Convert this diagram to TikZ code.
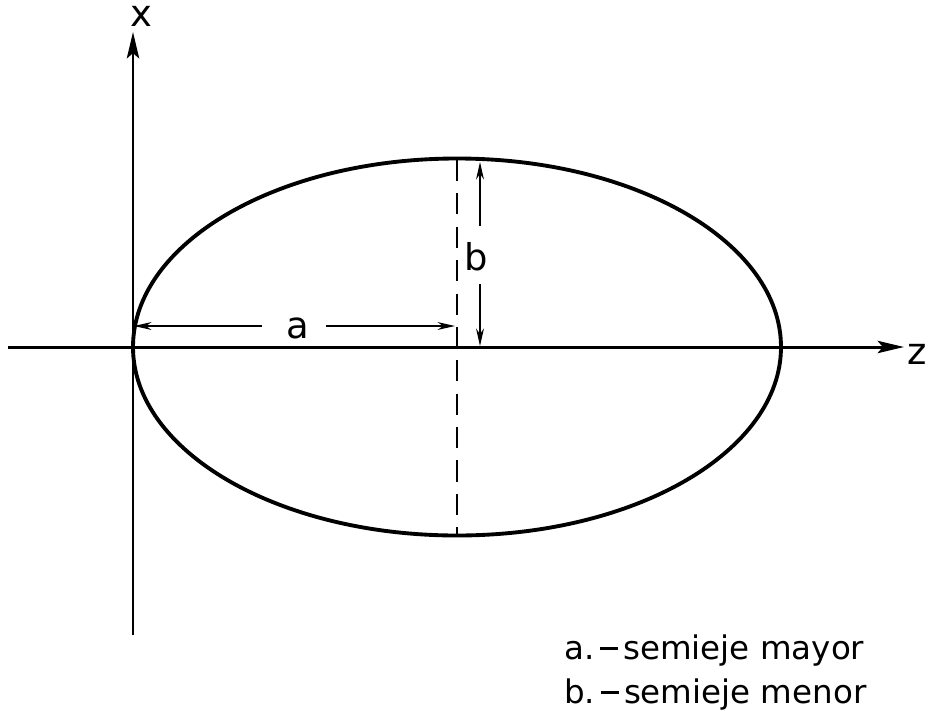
\documentclass[tikz,border=0pt]{standalone}
\usepackage{fontspec}
\setmainfont{DejaVu Sans}
\usetikzlibrary{arrows.meta}
\newcommand{\legdash}{\,\rule[0.3em]{0.55em}{1.6pt}\,}
\tikzset{
  axis/.style={line width=1.7pt, -{Stealth[length=15pt,width=7pt,inset=3pt]}},
  dimline/.style={line width=0.8pt, -{Stealth[length=10pt,width=4.5pt]}},
  curve/.style={line width=2.2pt},
  lbl/.style={font=\fontsize{21}{25}\selectfont, inner sep=0pt},
  legend/.style={font=\fontsize{18.5}{22}\selectfont, inner sep=0pt, anchor=west}
}
\begin{document}
\begin{tikzpicture}[x=0.02cm,y=-0.02cm]
\useasboundingbox (0,0) rectangle (937,714);
% coordinates
\coordinate (O) at (133,347);
\coordinate (C) at (457,347);
\coordinate (xb) at (133,635);
\coordinate (xt) at (133,32);
\coordinate (zl) at (8,347);
\coordinate (zr) at (904,347);
\coordinate (top) at (457,160);
\coordinate (bot) at (457,537);
\coordinate (bt) at (480,162);
\coordinate (bb) at (480,346);
\coordinate (bg1) at (480,226);
\coordinate (bg2) at (480,284);
\coordinate (al) at (134,326);
\coordinate (ar) at (455,326);
\coordinate (ag1) at (262,326);
\coordinate (ag2) at (326,326);
% axes
\draw[axis] (xb) -- (xt);
\draw[axis] (zl) -- (zr);
\node[lbl] (xl) at (141,16) {x};
\node[lbl] (zlab) at (917,354) {z};
% ellipse
\draw[curve] (C) ellipse [x radius=324, y radius=188.5];
% dashed minor axis
\draw[line width=1pt, dash pattern=on 12pt off 7pt] (top) -- (bot);
% b dimension
\draw[dimline] (bg1) -- (bt);
\draw[dimline] (bg2) -- (bb);
\node[lbl] (blab) at (476,257) {b};
% a dimension
\draw[dimline] (ag1) -- (al);
\draw[dimline] (ag2) -- (ar);
\node[lbl] (alab) at (298,328) {a};
% legend
\node[legend] (l1) at (564,651) {a.\legdash semieje mayor};
\node[legend] (l2) at (564,695) {b.\legdash semieje menor};
\end{tikzpicture}
\end{document}
